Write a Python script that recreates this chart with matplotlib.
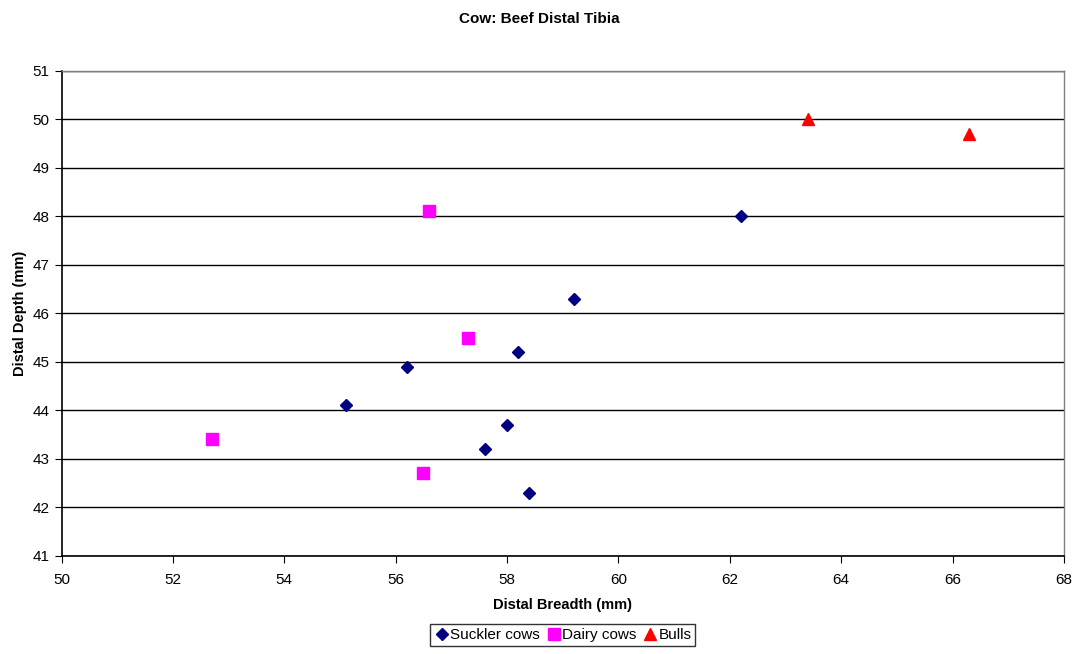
import matplotlib.pyplot as plt

plt.rcParams['font.family'] = ['Liberation Sans', 'DejaVu Sans']

# Suckler cows
suckler_x = [55.1, 56.2, 57.6, 58.0, 58.2, 58.4, 59.2, 62.2]
suckler_y = [44.1, 44.9, 43.2, 43.7, 45.2, 42.3, 46.3, 48.0]

# Dairy cows
dairy_x = [52.7, 56.5, 56.6, 57.3]
dairy_y = [43.4, 42.7, 48.1, 45.5]

# Bulls
bulls_x = [63.4, 66.3]
bulls_y = [50.0, 49.7]

x_ticks = list(range(50, 69, 2))
y_ticks = list(range(41, 52))

fig = plt.figure(figsize=(10.79, 6.54), dpi=100)
ax = fig.add_axes([0.057, 0.150, 0.929, 0.742])

ax.set_axisbelow(True)
ax.grid(axis='y', color='black', linewidth=1)

ax.plot(suckler_x, suckler_y, linestyle='none', marker='D', markersize=6.5,
        color='#000080', label='Suckler cows')
ax.plot(dairy_x, dairy_y, linestyle='none', marker='s', markersize=8,
        color='#ff00ff', label='Dairy cows')
ax.plot(bulls_x, bulls_y, linestyle='none', marker='^', markersize=9,
        color='#ff0000', label='Bulls')

ax.set_xlim(50, 68)
ax.set_ylim(41, 51)
ax.set_xticks(x_ticks)
ax.set_yticks(y_ticks)
ax.tick_params(direction='out', length=5, labelsize=11, color='black')
ax.tick_params(axis='x', pad=7)

for side in ['left', 'bottom']:
    ax.spines[side].set_color('black')
    ax.spines[side].set_linewidth(1.2)
for side in ['top', 'right']:
    ax.spines[side].set_color('#808080')
    ax.spines[side].set_linewidth(1)

ax.set_xlabel('Distal Breadth (mm)', fontweight='bold', fontsize=10.5, labelpad=8)
ax.set_ylabel('Distal Depth (mm)', fontweight='bold', fontsize=10.5, labelpad=4)
fig.suptitle('Cow: Beef Distal Tibia', fontweight='bold', fontsize=11, x=0.5, y=0.982)

leg = ax.legend(loc='upper center', bbox_to_anchor=(0.5, -0.125), ncol=3,
                frameon=True, fancybox=False, fontsize=11, handletextpad=0.05,
                columnspacing=0.4, handlelength=1.0, borderpad=0.25, edgecolor='black')
leg.get_frame().set_linewidth(1)

fig.savefig('out.png', dpi=100)
